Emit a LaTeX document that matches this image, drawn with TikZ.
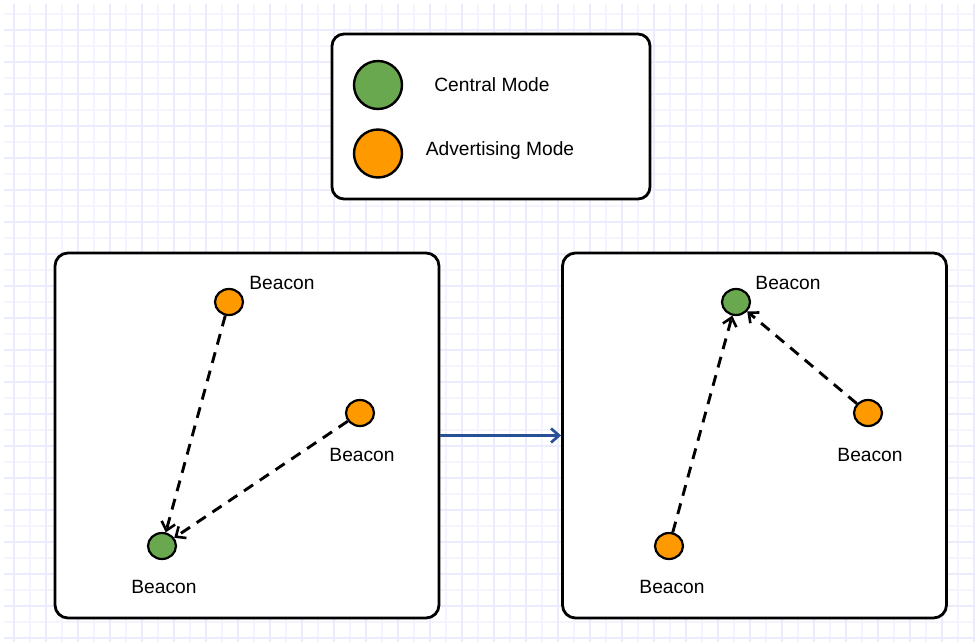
\documentclass[tikz,border=0pt]{standalone}
\usepackage{fontspec}
\setmainfont{Liberation Sans}
\usetikzlibrary{arrows.meta,shapes.geometric}
\definecolor{gridminor}{RGB}{244,244,255}
\definecolor{gridmajor}{RGB}{235,235,254}
\definecolor{centralgreen}{RGB}{106,168,79}
\definecolor{advorange}{RGB}{255,153,0}
\definecolor{flowblue}{RGB}{40,80,150}
\tikzset{
  panel/.style={draw=black, line width=2.8, fill=white, rounded corners=13,
    minimum width=384, minimum height=365, inner sep=0},
  legendbox/.style={draw=black, line width=2.8, fill=white, rounded corners=12,
    minimum width=318, minimum height=165, inner sep=0},
  central/.style={ellipse, draw=black, line width=2.2, fill=centralgreen,
    minimum width=28, minimum height=26, inner sep=0},
  adv/.style={ellipse, draw=black, line width=2.2, fill=advorange,
    minimum width=28, minimum height=26, inner sep=0},
  bigcentral/.style={circle, draw=black, line width=2.4, fill=centralgreen,
    minimum size=48, inner sep=0},
  bigadv/.style={circle, draw=black, line width=2.4, fill=advorange,
    minimum size=48, inner sep=0},
  lbl/.style={font=\fontsize{19.2}{23}\selectfont, text=black, inner sep=0},
  dasharrow/.style={draw=black, line width=2.9, dash pattern=on 11 off 8,
    -{Straight Barb[length=8,width=14,line width=2.6]}},
  flowarrow/.style={draw=flowblue, line width=2.7,
    -{Straight Barb[length=8,width=14,line width=2.7]}}
}
\begin{document}
\begin{tikzpicture}[x=1pt,y=-1pt]
  % canvas and background grid
  \fill[white] (0,0) rectangle (975,642);
  \useasboundingbox (0,0) rectangle (975,642);
  \foreach \x in {30,62,...,974} \draw[gridminor, line width=1.6] (\x,4) -- (\x,642);
  \foreach \y in {14,46,...,642} \draw[gridminor, line width=1.6] (4,\y) -- (975,\y);
  \foreach \x in {14,46,...,974} \draw[gridmajor, line width=1.6] (\x,4) -- (\x,642);
  \foreach \y in {30,62,...,642} \draw[gridmajor, line width=1.6] (4,\y) -- (975,\y);

  % legend
  \node[legendbox] (legend) at (491,116.5) {};
  \node[bigcentral] (lgreen) at (378,85) {};
  \node[bigadv] (lorange) at (378,153.5) {};
  \node[lbl] (ltext1) at (492,85) {Central Mode};
  \node[lbl] (ltext2) at (500,151) {Advertising Mode};

  % panels
  \node[panel] (left) at (247,435.5) {};
  \node[panel] (right) at (754.5,435.5) {};
  \draw[flowarrow] (left.east) -- (right.west);

  % left panel: two advertisers pointing at the central beacon
  \node[adv] (a1) at (229,302) {};
  \node[adv] (a2) at (360,413) {};
  \node[central] (c1) at (162,546) {};
  \node[lbl] (ta1) at (282,283) {Beacon};
  \node[lbl] (ta2) at (362,455) {Beacon};
  \node[lbl] (tc1) at (164,587) {Beacon};
  \draw[dasharrow] (a1) -- (c1);
  \draw[dasharrow] (a2) -- (c1);

  % right panel: roles swapped
  \node[central] (d1) at (736,302) {};
  \node[adv] (b2) at (868,413) {};
  \node[adv] (b3) at (669,546) {};
  \node[lbl] (td1) at (788,283) {Beacon};
  \node[lbl] (tb2) at (870,455) {Beacon};
  \node[lbl] (tb3) at (672,587) {Beacon};
  \draw[dasharrow] (b3) -- (d1);
  \draw[dasharrow] (b2) -- (d1);
\end{tikzpicture}
\end{document}
